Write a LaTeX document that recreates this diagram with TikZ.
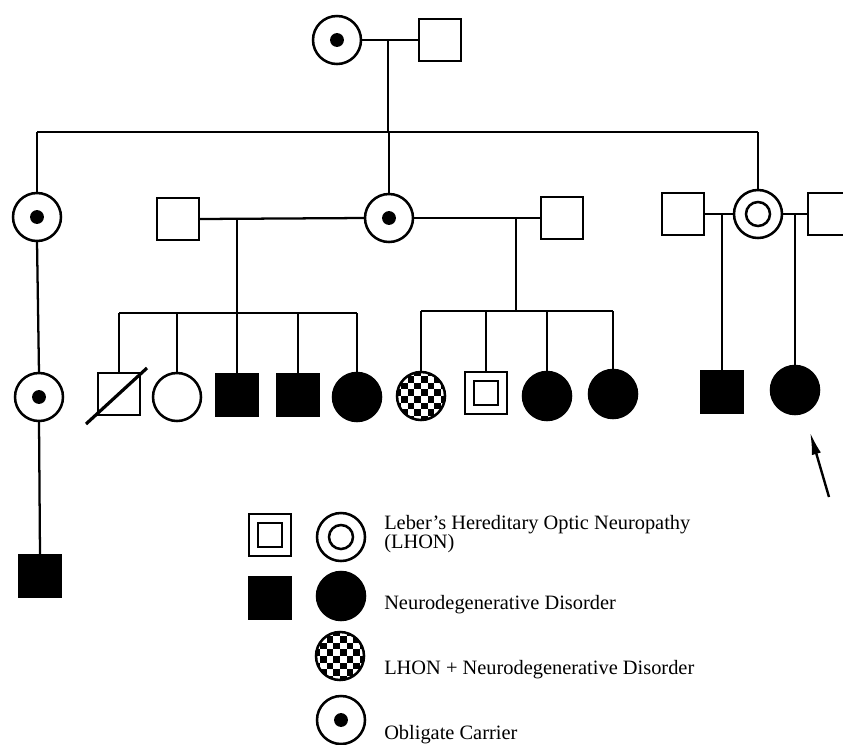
\documentclass[tikz,border=0pt]{standalone}
\usepackage{fontspec}
\setmainfont{Liberation Serif}
\usetikzlibrary{calc,arrows.meta}
\tikzset{
  sym/.style={draw, line width=1.9pt, inner sep=0pt, outer sep=0pt},
  fem/.style={sym, circle, minimum size=36pt},
  mal/.style={sym, rectangle, minimum size=31.5pt},
  aff/.style={fill=black},
  carrier/.style={fem, path picture={\fill (path picture bounding box.center) circle (5.2pt);}},
  lhonf/.style={fem, path picture={\draw[line width=1.9pt] (path picture bounding box.center) circle (9pt);}},
  lhonm/.style={mal, path picture={\draw[line width=1.9pt] ($(path picture bounding box.center)+(-9pt,-9pt)$) rectangle ++(18pt,18pt);}},
  checker/.style={fem, path picture={
      \foreach \i in {-4,...,3}{\foreach \j in {-4,...,3}{
          \pgfmathtruncatemacro{\k}{mod(\i+\j+8,2)}
          \ifnum\k=0 \fill ($(path picture bounding box.center)+(\i*5pt,\j*5pt)$) rectangle ++(5pt,5pt);\fi
      }}}},
  conn/.style={line width=1.7pt},
  legtext/.style={anchor=west, inner sep=0pt, font=\fontsize{15.3}{14}\selectfont, align=left},
}
\begin{document}
\begin{tikzpicture}[x=0.75pt, y=-0.75pt]
\useasboundingbox (0,0) rectangle (843,744);
% generation I
\node[carrier] (I1) at (337,40) {};
\node[mal] (I2) at (440,40) {};
% generation II
\node[carrier] (II1) at (37,217) {};
\node[mal] (II2) at (178,219) {};
\node[carrier] (II3) at (389,218) {};
\node[mal] (II4) at (562,218) {};
\node[mal] (II5) at (683,214) {};
\node[lhonf] (II6) at (758,214) {};
\node[mal] (II7) at (829,214) {};
% generation III
\node[carrier] (III1) at (39,397) {};
\node[mal] (III2) at (119,394) {};
\node[fem] (III3) at (177,397) {};
\node[mal,aff] (III4) at (237,395) {};
\node[mal,aff] (III5) at (298,395) {};
\node[fem,aff] (III6) at (357,397) {};
\node[checker] (III7) at (421,396) {};
\node[lhonm] (III8) at (486,393) {};
\node[fem,aff] (III9) at (547,396) {};
\node[fem,aff] (III10) at (613,394) {};
\node[mal,aff] (III11) at (722,392) {};
\node[fem,aff] (III12) at (795,390) {};
% generation IV
\node[mal,aff] (IV1) at (40,576) {};
% deceased slash
\draw[line width=2.4pt] ($(III2.center)+(-33,30)$) -- ($(III2.center)+(28,-26)$);
% coordinates
\coordinate (m1) at (388,40);
\coordinate (g2L) at (37,132);
\coordinate (g2R) at (758,132);
\coordinate (m2) at (237,219);
\coordinate (s1) at (237,313);
\coordinate (m3) at (516,218);
\coordinate (s2) at (516,311);
\coordinate (ptail) at (829,497);
\coordinate (phead) at (810,432);
% connectors generation I
\draw[conn] (I1.east) -- (I2.west);
\draw[conn] (m1) -- (m1 |- g2L);
\draw[conn] (g2L) -- (g2R);
\draw[conn] (g2L) -- (II1.north);
\draw[conn] (II3.north |- g2L) -- (II3.north);
\draw[conn] (g2R) -- (II6.north);
% couples generation II
\draw[conn] (II2.east) -- (II3.west);
\draw[conn] (II3.east) -- (II4.west);
\draw[conn] (II5.east) -- (II6.west);
\draw[conn] (II6.east) -- (II7.west);
% sibship 1
\draw[conn] (m2) -- (s1);
\draw[conn] (III2.north |- s1) -- (III6.north |- s1);
\foreach \c in {III2,III3,III4,III5,III6} \draw[conn] (\c.north |- s1) -- (\c.north);
% sibship 2
\draw[conn] (m3) -- (s2);
\draw[conn] (III7.north |- s2) -- (III10.north |- s2);
\foreach \c in {III7,III8,III9,III10} \draw[conn] (\c.north |- s2) -- (\c.north);
% right family
\draw[conn] (III11.north |- II5.east) -- (III11.north);
\draw[conn] (III12.north |- II7.west) -- (III12.north);
% left line
\draw[conn] (II1.south) -- (III1.north);
\draw[conn] (III1.south) -- (IV1.north);
% proband arrow
\draw[line width=1.8pt, -{Latex[length=17pt,width=7pt]}] (ptail) -- (phead);
% legend
\node[lhonm] (L1) at (270,535) {};
\node[lhonf] (L2) at (341,537) {};
\node[mal,aff] (L3) at (270,598) {};
\node[fem,aff] (L4) at (341,596) {};
\node[checker] (L5) at (340,656) {};
\node[carrier] (L6) at (341,720) {};
\node[legtext] (T1) at (384,534) {Leber's Hereditary Optic Neuropathy\\(LHON)};
\node[legtext] (T2) at (384,605) {Neurodegenerative Disorder};
\node[legtext] (T3) at (384,670) {LHON + Neurodegenerative Disorder};
\node[legtext] (T4) at (384,735) {Obligate Carrier};
\end{tikzpicture}
\end{document}
